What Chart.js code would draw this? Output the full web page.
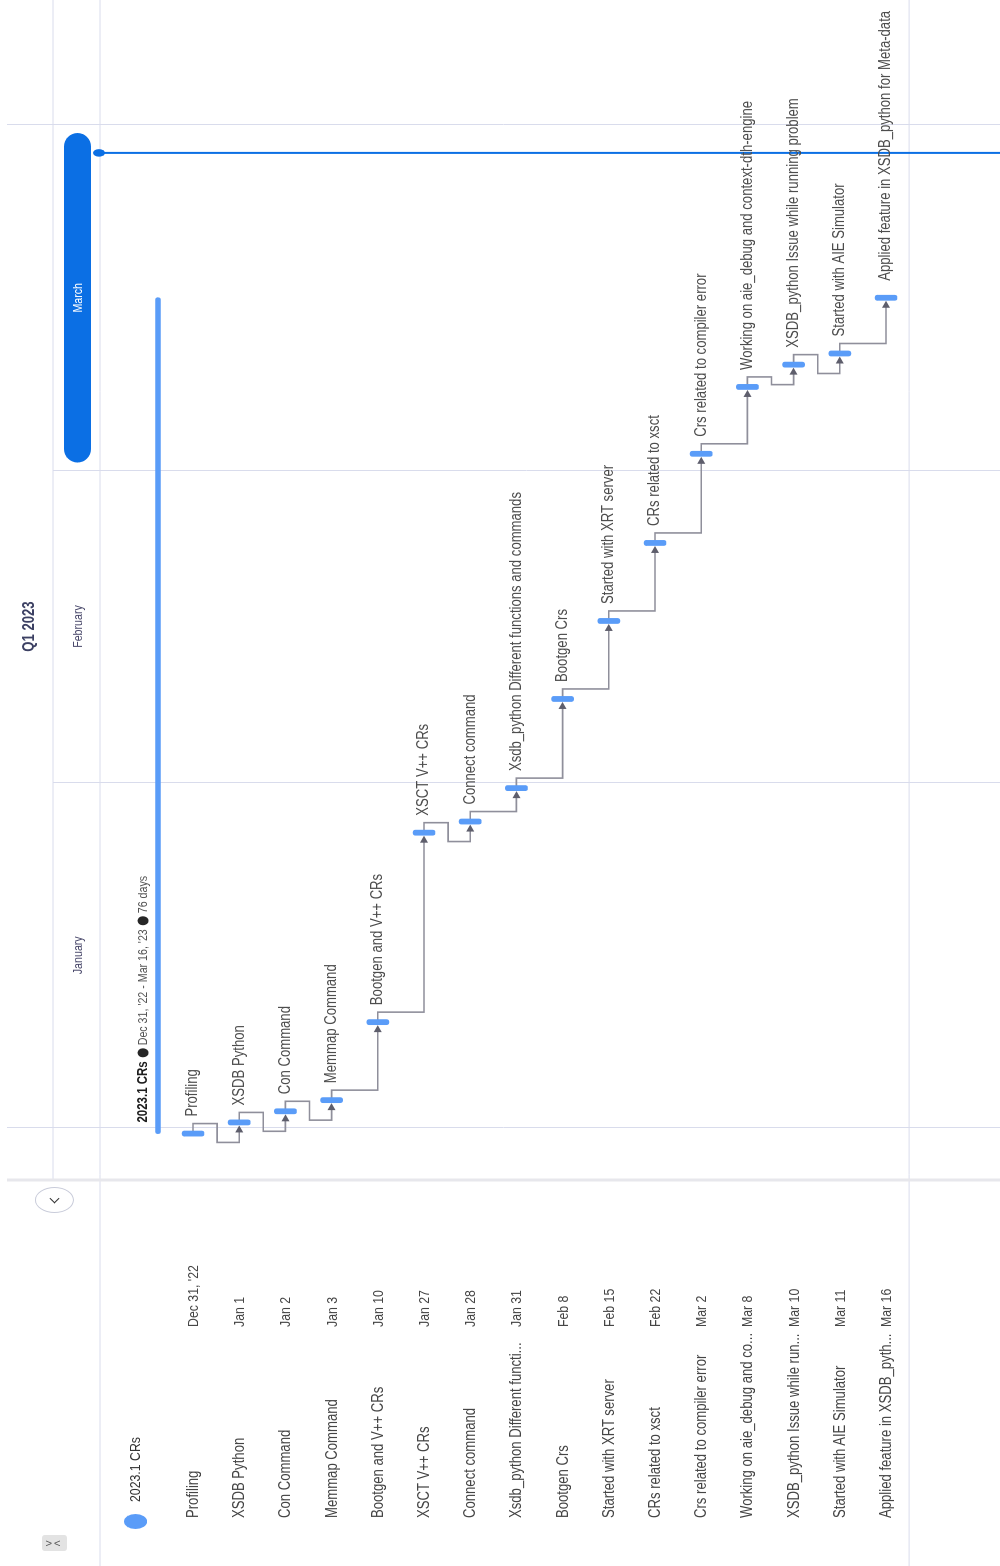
<!DOCTYPE html>
<html>
<head>
<meta charset="utf-8">
<title>2023.1 CRs</title>
<script src="https://cdn.jsdelivr.net/npm/chart.js@4.4.1/dist/chart.umd.min.js"></script>
<style>
  html, body { margin: 0; padding: 0; background: #fff; overflow: hidden; }
  body { width: 1000px; height: 1566px; position: relative; }
  /* the timeline is laid out lying down, then turned a quarter to the left */
  #board {
    position: absolute; left: 0; top: 0; width: 1566px; height: 1000px;
    transform-origin: 0 0; transform: translateY(1566px) rotate(-90deg);
    font-family: "Liberation Sans", Arial, sans-serif;
  }
  #gantt { position: absolute; left: 0; top: 0; }
  #panel { position: absolute; left: 0; top: 0; width: 386px; height: 1000px; }
  .cell {
    position: absolute; white-space: nowrap; height: 20px; line-height: 20px;
    transform-origin: 0 50%; transform: scaleX(0.82); color: #454545;
  }
  .dot { position: absolute; width: 15px; height: 23px; border-radius: 50%; background: #5a9cf8; }
  .collapse {
    position: absolute; left: 353px; top: 35px; width: 26px; height: 39px;
    border: 1px solid #c9ccda; border-radius: 50%; background: #fff; box-sizing: border-box;
  }
  .collapse i {
    position: absolute; left: 10px; top: 15px; width: 6px; height: 6px;
    border-left: 1.5px solid #333; border-bottom: 1.5px solid #333; transform: rotate(45deg);
  }
  .fold {
    position: absolute; left: 15px; top: 42px; width: 16px; height: 25px;
    background: #e3e3e3; border-radius: 3px;
  }
  .fold span {
    position: absolute; left: -5px; top: 6px; width: 26px; text-align: center;
    font-size: 11px; line-height: 12px; color: #555; letter-spacing: 2px;
    transform: rotate(90deg);
  }
</style>
</head>
<body>
<div id="board">
  <canvas id="gantt" width="1566" height="1000"></canvas>
  <div id="panel"></div>
</div>

<script>
// ---- data ----
const projectName = '2023.1 CRs';
const taskNames = [
  'Profiling',
  'XSDB Python',
  'Con Command',
  'Memmap Command',
  'Bootgen and V++ CRs',
  'XSCT V++ CRs',
  'Connect command',
  'Xsdb_python Different functions and commands',
  'Bootgen Crs',
  'Started with XRT server',
  'CRs related to xsct',
  'Crs related to compiler error',
  'Working on aie_debug and context-dth-engine',
  'XSDB_python Issue while running problem',
  'Started with AIE Simulator',
  'Applied feature in XSDB_python for Meta-data'
];
// names as the side list shows them (cut to the column width)
const listNames = [
  'Profiling',
  'XSDB Python',
  'Con Command',
  'Memmap Command',
  'Bootgen and V++ CRs',
  'XSCT V++ CRs',
  'Connect command',
  'Xsdb_python Different functi...',
  'Bootgen Crs',
  'Started with XRT server',
  'CRs related to xsct',
  'Crs related to compiler error',
  'Working on aie_debug and co...',
  'XSDB_python Issue while run...',
  'Started with AIE Simulator',
  'Applied feature in XSDB_pyth...'
];
const taskDates = [
  '2022-12-31', '2023-01-01', '2023-01-02', '2023-01-03',
  '2023-01-10', '2023-01-27', '2023-01-28', '2023-01-31',
  '2023-02-08', '2023-02-15', '2023-02-22', '2023-03-02',
  '2023-03-08', '2023-03-10', '2023-03-11', '2023-03-16'
];
const quarterLabel = 'Q1 2023';
const monthLabels = ['January', 'February', 'March'];
const monthStarts = ['2023-01-01', '2023-02-01', '2023-03-01', '2023-04-01'];
const todayDate = '2023-03-29';
const MONTH_SHORT = ['Jan', 'Feb', 'Mar', 'Apr', 'May', 'Jun', 'Jul', 'Aug', 'Sep', 'Oct', 'Nov', 'Dec'];

// ---- layout (lying-down coordinates) ----
const W = 1566, H = 1000;
const PANEL_W = 386;
const DAY_PX = 11.144;     // one day on the timeline
const JAN1_X = 438;        // where Jan 1 sits
const ROW_H = 46.2;
const FIRST_ROW_Y = 193;
const SUMMARY_Y = 158;
const HEAD_TOP = 7, HEAD_MID = 53, HEAD_BOTTOM = 100;
const NARROW = 0.82;       // the app font is a condensed one
const BLUE = '#5a9cf8';
const DARK_BLUE = '#0b6fe4';
const GRID = '#d9dcec';

const DAY0 = Date.UTC(2023, 0, 1);
const dayOf = iso => (Date.parse(iso + 'T00:00:00Z') - DAY0) / 86400000;
const midDay = iso => dayOf(iso) + 0.5;

function shortDate(iso, withYear) {
  const d = new Date(iso + 'T00:00:00Z');
  let s = MONTH_SHORT[d.getUTCMonth()] + ' ' + d.getUTCDate();
  if (withYear || d.getUTCFullYear() !== 2023) s += ", '" + String(d.getUTCFullYear()).slice(2);
  return s;
}

// draws condensed text, returns its drawn width
function drawText(ctx, text, x, y, font, color, align) {
  ctx.save();
  ctx.font = font;
  ctx.fillStyle = color;
  ctx.textBaseline = 'middle';
  ctx.textAlign = align || 'left';
  const width = ctx.measureText(text).width * NARROW;
  ctx.translate(x, y);
  ctx.scale(NARROW, 1);
  ctx.fillText(text, 0, 0);
  ctx.restore();
  return width;
}

function line(ctx, x1, y1, x2, y2) {
  ctx.beginPath();
  ctx.moveTo(x1, y1);
  ctx.lineTo(x2, y2);
  ctx.stroke();
}

const ganttDecor = {
  id: 'ganttDecor',
  beforeDatasetsDraw(chart) {
    const ctx = chart.ctx;
    const xs = chart.scales.x, ys = chart.scales.y;
    const bounds = monthStarts.map(m => xs.getPixelForValue(dayOf(m)));
    const rowsEnd = ys.getPixelForValue(taskNames.length + 0.5);

    // grid
    ctx.save();
    ctx.strokeStyle = GRID;
    ctx.lineWidth = 1;
    line(ctx, PANEL_W, HEAD_MID, W, HEAD_MID);
    line(ctx, 0, HEAD_BOTTOM, W, HEAD_BOTTOM);
    line(ctx, 0, rowsEnd, W, rowsEnd);
    bounds.forEach((x, i) => {
      const top = (i === 0 || i === bounds.length - 1) ? HEAD_TOP : HEAD_MID;
      line(ctx, Math.round(x) + 0.5, top, Math.round(x) + 0.5, H);
    });
    ctx.strokeStyle = '#e7e7ec';
    ctx.lineWidth = 3;
    line(ctx, PANEL_W, HEAD_TOP, PANEL_W, H);
    ctx.restore();

    // header: quarter and months
    const qMid = (bounds[0] + bounds[bounds.length - 1]) / 2;
    drawText(ctx, quarterLabel, qMid, 30, 'bold 16px "Liberation Sans"', '#3c4063', 'center');
    const today = dayOf(todayDate);
    monthLabels.forEach((m, i) => {
      const mid = (bounds[i] + bounds[i + 1]) / 2;
      const current = today >= dayOf(monthStarts[i]) && today < dayOf(monthStarts[i + 1]);
      if (current) {
        ctx.save();
        ctx.fillStyle = DARK_BLUE;
        ctx.beginPath();
        ctx.roundRect(bounds[i] + 8, 64, bounds[i + 1] - bounds[i] - 16, 27, 13.5);
        ctx.fill();
        ctx.restore();
        drawText(ctx, m, mid, 78, '13px "Liberation Sans"', '#ffffff', 'center');
      } else {
        drawText(ctx, m, mid, 78, '13px "Liberation Sans"', '#4b4a6c', 'center');
      }
    });

    // today marker
    const tx = xs.getPixelForValue(today + 0.5);
    ctx.save();
    ctx.strokeStyle = DARK_BLUE;
    ctx.lineWidth = 2;
    line(ctx, tx, HEAD_BOTTOM, tx, H);
    ctx.fillStyle = DARK_BLUE;
    ctx.beginPath();
    ctx.ellipse(tx, HEAD_BOTTOM - 1, 3.8, 6, 0, 0, Math.PI * 2);
    ctx.fill();
    ctx.restore();

    // dependency links, each task follows the previous one
    ctx.save();
    ctx.strokeStyle = '#8f8f9b';
    ctx.fillStyle = '#5e5e6c';
    ctx.lineWidth = 1.6;
    for (let i = 1; i < taskDates.length; i++) {
      const xa = xs.getPixelForValue(midDay(taskDates[i - 1]));
      const xb = xs.getPixelForValue(midDay(taskDates[i]));
      const ya = ys.getPixelForValue(i);
      const yb = ys.getPixelForValue(i + 1);
      const out = xa + 10;
      const tip = xb - 3;
      ctx.beginPath();
      ctx.moveTo(xa, ya);
      ctx.lineTo(out, ya);
      if (xb - xa < 30) {
        const midY = (ya + yb) / 2 + 1;
        const back = xb - 20;
        ctx.lineTo(out, midY);
        ctx.lineTo(back, midY);
        ctx.lineTo(back, yb);
      } else {
        ctx.lineTo(out, yb);
      }
      ctx.lineTo(tip - 6, yb);
      ctx.stroke();
      ctx.beginPath();
      ctx.moveTo(tip, yb);
      ctx.lineTo(tip - 7, yb - 4);
      ctx.lineTo(tip - 7, yb + 4);
      ctx.closePath();
      ctx.fill();
    }
    ctx.restore();
  },
  afterDatasetsDraw(chart) {
    const ctx = chart.ctx;
    const xs = chart.scales.x, ys = chart.scales.y;

    taskNames.forEach((name, i) => {
      const x = xs.getPixelForValue(midDay(taskDates[i]));
      drawText(ctx, name, x + 17, ys.getPixelForValue(i + 1), '16px "Liberation Sans"', '#4d4d4d');
    });

    // summary caption above the project bar
    const first = taskDates[0], last = taskDates[taskDates.length - 1];
    const days = dayOf(last) - dayOf(first) + 1;
    const y = 143;
    let x = xs.getPixelForValue(midDay(first)) + 11;
    x += drawText(ctx, projectName, x, y, 'bold 14px "Liberation Sans"', '#1e1e1e') + 4;
    const bullet = () => {
      ctx.fillStyle = '#262626';
      ctx.beginPath();
      ctx.ellipse(x + 4.5, y, 4.5, 5.5, 0, 0, Math.PI * 2);
      ctx.fill();
      x += 12;
    };
    bullet();
    x += drawText(ctx, shortDate(first, true) + ' - ' + shortDate(last, true), x, y, '13px "Liberation Sans"', '#555555') + 4;
    bullet();
    drawText(ctx, days + ' days', x, y, '13px "Liberation Sans"', '#555555');
  }
};

const xMin = -JAN1_X / DAY_PX;
const xMax = (W - JAN1_X) / DAY_PX;
const rowScale = (value, pixel) => ({
  type: 'linear', display: false, reverse: true, offset: false, bounds: 'data',
  min: value - pixel / ROW_H, max: value + (H - pixel) / ROW_H
});

const chart = new Chart(document.getElementById('gantt'), {
  type: 'bar',
  data: {
    datasets: [
      {
        label: projectName,
        yAxisID: 'ySum',
        data: [{ x: [midDay(taskDates[0]), midDay(taskDates[taskDates.length - 1])], y: 0 }],
        backgroundColor: BLUE,
        barThickness: 5,
        borderRadius: 2,
        borderSkipped: false,
        grouped: false
      },
      {
        label: 'Milestones',
        yAxisID: 'y',
        data: taskDates.map((d, i) => ({ x: [midDay(d) - 0.23, midDay(d) + 0.23], y: i + 1 })),
        backgroundColor: BLUE,
        barThickness: 22,
        borderRadius: 3,
        borderSkipped: false,
        grouped: false
      }
    ]
  },
  options: {
    indexAxis: 'y',
    responsive: false,
    animation: false,
    devicePixelRatio: 1,
    layout: { padding: 0 },
    plugins: { legend: { display: false }, tooltip: { enabled: false } },
    scales: {
      x: { type: 'linear', display: false, min: xMin, max: xMax, bounds: 'data', beginAtZero: false },
      y: rowScale(1, FIRST_ROW_Y),
      ySum: rowScale(0, SUMMARY_Y)
    }
  },
  plugins: [ganttDecor]
});

// ---- left list ----
function buildPanel() {
  const panel = document.getElementById('panel');
  const ys = chart.scales.y;
  const add = (cls, css, text) => {
    const el = document.createElement('div');
    el.className = cls;
    Object.assign(el.style, css);
    if (text !== undefined) el.textContent = text;
    panel.appendChild(el);
    return el;
  };

  add('dot', { left: '37px', top: (135 - 11.5) + 'px' });
  add('cell', { left: '64px', top: (135 - 10) + 'px', fontSize: '15px', color: '#333' }, projectName);

  listNames.forEach((name, i) => {
    const y = ys.getPixelForValue(i + 1);
    add('cell', { left: '48px', top: (y - 10) + 'px', fontSize: '16px' }, name);
    add('cell', { left: '239px', top: (y - 10) + 'px', fontSize: '15px' }, shortDate(taskDates[i]));
  });

  const collapse = add('collapse', {});
  collapse.appendChild(document.createElement('i'));
  const fold = add('fold', {});
  const s = document.createElement('span');
  s.textContent = '><';
  fold.appendChild(s);
}
buildPanel();
</script>
</body>
</html>
